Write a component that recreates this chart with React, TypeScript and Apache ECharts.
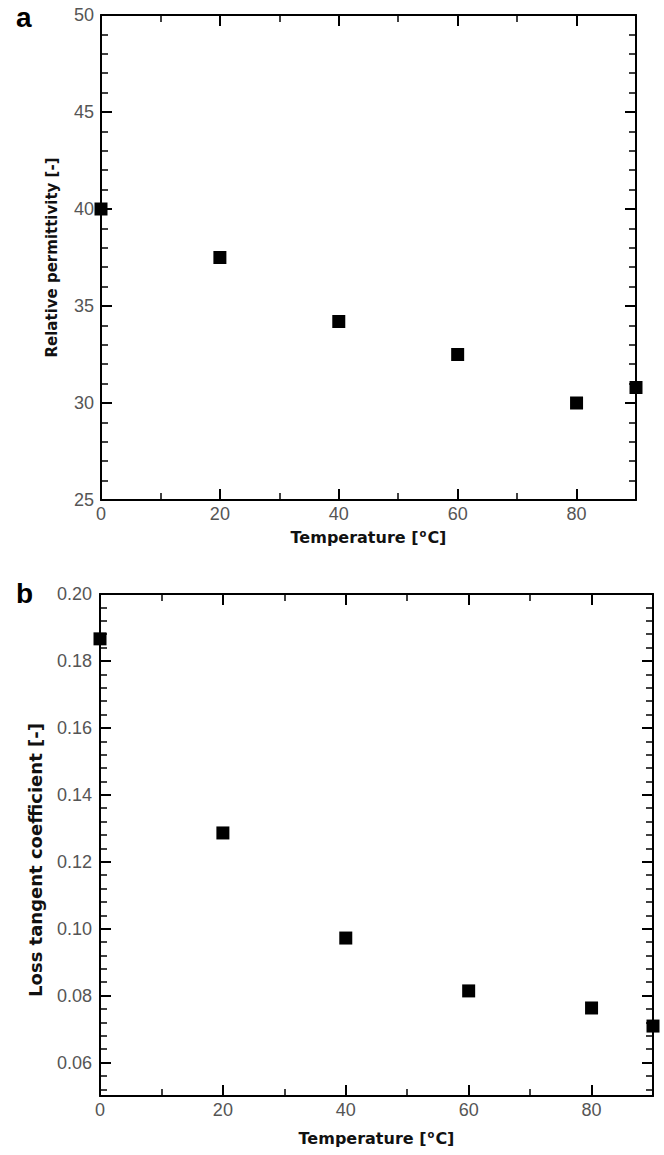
import React, { useEffect, useRef } from "react";
import * as echarts from "echarts";

// ---- data ----
const temperatureA = [0, 20, 40, 60, 80, 90];
const permittivity = [40.0, 37.5, 34.2, 32.5, 30.0, 30.8];

const temperatureB = [0, 20, 40, 60, 80, 90];
const lossTangent = [0.1866, 0.1286, 0.0972, 0.0814, 0.0763, 0.0709];

// ---- ticks ----
const xMajorTicks = [0, 20, 40, 60, 80];
const xMinorTicks = [10, 30, 50, 70];
const aYMajorTicks = [25, 30, 35, 40, 45, 50];
const aYMinorTicks = [26, 27, 28, 29, 31, 32, 33, 34, 36, 37, 38, 39, 41, 42, 43, 44, 46, 47, 48, 49];
const bYMajorTicks = [0.06, 0.08, 0.1, 0.12, 0.14, 0.16, 0.18, 0.2];
const bYMinorTicks = [
  0.052, 0.056, 0.064, 0.068, 0.072, 0.076, 0.084, 0.088, 0.092, 0.096, 0.104, 0.108, 0.112, 0.116,
  0.124, 0.128, 0.132, 0.136, 0.144, 0.148, 0.152, 0.156, 0.164, 0.168, 0.172, 0.176, 0.184, 0.188,
  0.192, 0.196,
];

const TICK_FONT = "Liberation Sans";
const TITLE_FONT = "DejaVu Sans";
const labelStyle = { color: "#555", fontFamily: TICK_FONT, fontSize: 18 };
const lineStyle = { color: "#000", width: 2 };

function makeAxes(
  gridIndex: number,
  min: number,
  max: number,
  major: number[],
  minor: number[],
  dim: "x" | "y",
  name: string,
  nameGap: number,
  nameTextStyle: any,
  labelMargin: number,
  formatter?: (v: number) => string
) {
  const base = { type: "value", gridIndex, min, max, splitLine: { show: false } };
  const posMain = dim === "x" ? "bottom" : "left";
  const posOpp = dim === "x" ? "top" : "right";
  const majorTick = (vals: number[]) => ({
    show: true,
    inside: true,
    length: 11,
    lineStyle: { color: "#000", width: 2 },
    customValues: vals,
  });
  const minorTick = (vals: number[]) => ({
    show: true,
    inside: true,
    length: 7,
    lineStyle: { color: "#000", width: 1.5 },
    customValues: vals,
  });
  return [
    {
      ...base,
      position: posMain,
      axisLine: { show: true, onZero: false, lineStyle },
      axisTick: majorTick(major),
      axisLabel: { show: true, customValues: major, margin: labelMargin, formatter, ...labelStyle },
      name,
      nameLocation: "middle",
      nameGap,
      nameTextStyle,
    },
    {
      ...base,
      position: posMain,
      axisLine: { show: false, onZero: false },
      axisTick: minorTick(minor),
      axisLabel: { show: false },
    },
    {
      ...base,
      position: posOpp,
      axisLine: { show: true, onZero: false, lineStyle },
      axisTick: majorTick(major),
      axisLabel: { show: false },
    },
    {
      ...base,
      position: posOpp,
      axisLine: { show: false, onZero: false },
      axisTick: minorTick(minor),
      axisLabel: { show: false },
    },
  ];
}

const xNameStyle = {
  fontFamily: TITLE_FONT,
  fontWeight: "bold",
  fontSize: 16,
  color: "#111",
  rich: {
    n: { fontFamily: TITLE_FONT, fontWeight: "bold", fontSize: 16, color: "#111", lineHeight: 18 },
    s: { fontFamily: TITLE_FONT, fontWeight: "bold", fontSize: 10, color: "#111", verticalAlign: "top", lineHeight: 18, padding: [0, 1, 0, 1] },
  },
};
const xName = "{n|Temperature [}{s|o}{n|C]}";

export default function App() {
  const ref = useRef<HTMLDivElement>(null);
  useEffect(() => {
    if (!ref.current) return;
    const chart = echarts.init(ref.current, undefined, { renderer: "svg" });

    const xA = makeAxes(0, 0, 90, xMajorTicks, xMinorTicks, "x", xName, 28, xNameStyle, 5);
    const yA = makeAxes(0, 25, 50, aYMajorTicks, aYMinorTicks, "y", "Relative permittivity [-]", 42,
      { fontFamily: TITLE_FONT, fontWeight: "bold", fontSize: 15, color: "#111" }, 7);
    const xB = makeAxes(1, 0, 90, xMajorTicks, xMinorTicks, "x", xName, 33, xNameStyle, 5);
    const yB = makeAxes(1, 0.05, 0.2, bYMajorTicks, bYMinorTicks, "y", "Loss tangent coefficient [-]", 56,
      { fontFamily: TITLE_FONT, fontWeight: "bold", fontSize: 18, color: "#111", padding: [0, 30, 0, 0] }, 8,
      (v: number) => v.toFixed(2));

    chart.setOption({
      animation: false,
      backgroundColor: "#fff",
      grid: [
        { left: 101, top: 15, width: 535, height: 485, outerBoundsMode: "none" },
        { left: 100, top: 594, width: 553, height: 502, outerBoundsMode: "none" },
      ],
      xAxis: [...xA, ...xB],
      yAxis: [...yA, ...yB],
      graphic: [
        {
          type: "text",
          left: 16,
          top: 3,
          style: { text: "a", font: "bold 28px 'Liberation Sans'", fill: "#000" },
        },
        {
          type: "text",
          left: 16,
          top: 579,
          style: { text: "b", font: "bold 28px 'Liberation Sans'", fill: "#000" },
        },
      ],
      series: [
        {
          type: "scatter",
          xAxisIndex: 0,
          yAxisIndex: 0,
          symbol: "rect",
          symbolSize: 13,
          clip: false,
          itemStyle: { color: "#000", opacity: 1 },
          data: temperatureA.map((t, i) => [t, permittivity[i]]),
        },
        {
          type: "scatter",
          xAxisIndex: 4,
          yAxisIndex: 4,
          symbol: "rect",
          symbolSize: 13,
          clip: false,
          itemStyle: { color: "#000", opacity: 1 },
          data: temperatureB.map((t, i) => [t, lossTangent[i]]),
        },
      ],
    });
    return () => chart.dispose();
  }, []);
  return (
    <div
      ref={ref}
      style={{ position: "absolute", left: 0, top: 0, width: 664, height: 1155 }}
    />
  );
}
